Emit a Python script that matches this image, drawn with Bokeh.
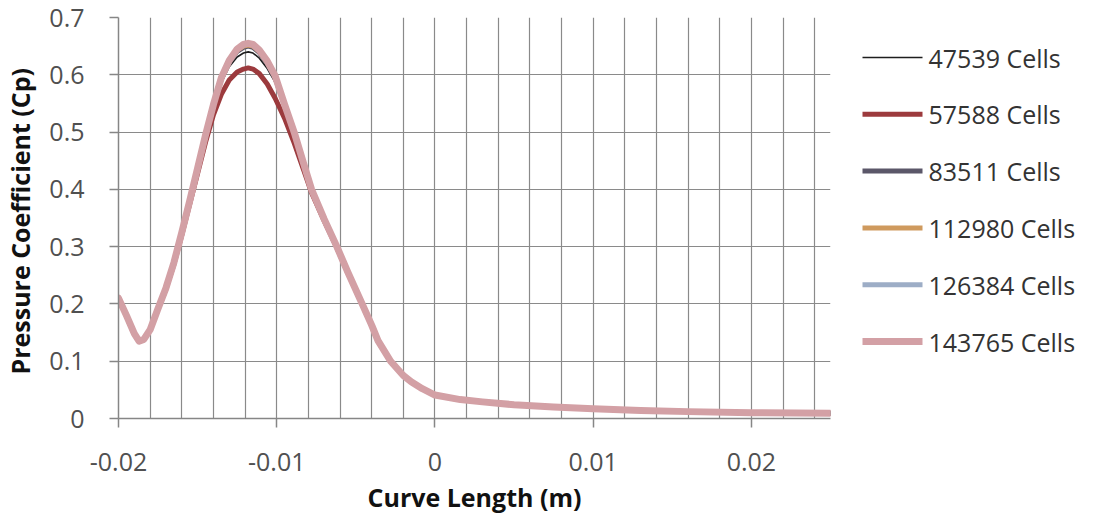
from bokeh.plotting import figure
from bokeh.layouts import row
from bokeh.models import SingleIntervalTicker, FixedTicker, CustomJSTickFormatter, Range1d
from bokeh.core.properties import value
from bokeh.embed import file_html
from bokeh.resources import INLINE

# Curve length along surface (m)
curve_length = [-0.0200, -0.0195, -0.0190, -0.0187, -0.0184, -0.0180, -0.0175, -0.0170, -0.0165, -0.0160,
                -0.0155, -0.0150, -0.0145, -0.0140, -0.0135, -0.0130, -0.0125, -0.0121, -0.0118, -0.0115,
                -0.0111, -0.0106, -0.0101, -0.0095, -0.0089, -0.0083, -0.0078, -0.0070, -0.0062, -0.0055,
                -0.0046, -0.0040, -0.0036, -0.0028, -0.0020, -0.0015, -0.0008, 0.0000, 0.0016, 0.0030,
                0.0050, 0.0075, 0.0100, 0.0130, 0.0160, 0.0200, 0.0250]

cp_47539 = [0.215, 0.182, 0.149, 0.136, 0.139, 0.156, 0.193, 0.229, 0.272, 0.324,
            0.378, 0.434, 0.491, 0.543, 0.586, 0.614, 0.631, 0.638, 0.640, 0.638,
            0.629, 0.611, 0.587, 0.541, 0.497, 0.443, 0.399, 0.347, 0.300, 0.255,
            0.200, 0.163, 0.136, 0.100, 0.075, 0.064, 0.052, 0.041, 0.033, 0.029,
            0.024, 0.020, 0.017, 0.014, 0.012, 0.010, 0.009]

cp_57588 = [0.209, 0.179, 0.147, 0.135, 0.138, 0.155, 0.191, 0.226, 0.269, 0.320,
            0.374, 0.428, 0.482, 0.530, 0.566, 0.591, 0.605, 0.610, 0.612, 0.610,
            0.602, 0.584, 0.559, 0.524, 0.481, 0.434, 0.394, 0.345, 0.298, 0.254,
            0.199, 0.162, 0.135, 0.100, 0.075, 0.064, 0.052, 0.041, 0.033, 0.029,
            0.024, 0.020, 0.017, 0.014, 0.012, 0.010, 0.009]

cp_83511 = [0.210, 0.180, 0.148, 0.135, 0.138, 0.155, 0.192, 0.228, 0.272, 0.325,
            0.380, 0.437, 0.494, 0.547, 0.593, 0.622, 0.641, 0.648, 0.650, 0.648,
            0.639, 0.620, 0.595, 0.546, 0.499, 0.444, 0.399, 0.348, 0.300, 0.255,
            0.200, 0.163, 0.136, 0.100, 0.075, 0.064, 0.052, 0.041, 0.033, 0.029,
            0.024, 0.020, 0.017, 0.014, 0.012, 0.010, 0.009]

cp_112980 = [0.210, 0.180, 0.148, 0.135, 0.138, 0.155, 0.192, 0.228, 0.272, 0.325,
             0.380, 0.437, 0.495, 0.548, 0.594, 0.624, 0.643, 0.650, 0.652, 0.650,
             0.641, 0.622, 0.597, 0.547, 0.500, 0.445, 0.400, 0.348, 0.300, 0.255,
             0.200, 0.163, 0.136, 0.100, 0.075, 0.064, 0.052, 0.041, 0.033, 0.029,
             0.024, 0.020, 0.017, 0.014, 0.012, 0.010, 0.009]

cp_126384 = [0.210, 0.180, 0.148, 0.135, 0.138, 0.155, 0.192, 0.228, 0.272, 0.325,
             0.380, 0.437, 0.495, 0.548, 0.595, 0.625, 0.644, 0.652, 0.654, 0.652,
             0.642, 0.623, 0.598, 0.548, 0.500, 0.445, 0.400, 0.348, 0.300, 0.255,
             0.200, 0.163, 0.136, 0.100, 0.075, 0.064, 0.052, 0.041, 0.033, 0.029,
             0.024, 0.020, 0.017, 0.014, 0.012, 0.010, 0.009]

cp_143765 = [0.210, 0.180, 0.148, 0.135, 0.138, 0.155, 0.192, 0.228, 0.272, 0.325,
             0.380, 0.437, 0.495, 0.548, 0.595, 0.625, 0.645, 0.653, 0.655, 0.653,
             0.643, 0.624, 0.598, 0.548, 0.500, 0.445, 0.400, 0.348, 0.300, 0.255,
             0.200, 0.163, 0.136, 0.100, 0.075, 0.064, 0.052, 0.041, 0.033, 0.029,
             0.024, 0.020, 0.017, 0.014, 0.012, 0.010, 0.009]

series_labels = ["47539 Cells", "57588 Cells", "83511 Cells", "112980 Cells", "126384 Cells", "143765 Cells"]
series_values = [cp_47539, cp_57588, cp_83511, cp_112980, cp_126384, cp_143765]
series_colors = ["#1e1e1e", "#9c3a3d", "#5b5769", "#cf9a5e", "#9dadc6", "#d3a0a5"]
series_widths = [1.6, 5, 5, 5, 5, 7]

x_ticks = [-0.02, -0.01, 0, 0.01, 0.02]
y_ticks = [0, 0.1, 0.2, 0.3, 0.4, 0.5, 0.6, 0.7]

FONT = "Open Sans"
H = 518
TOP = 17
BOTTOM = 100

p = figure(width=840, height=H, output_backend="svg", toolbar_location=None,
           x_range=Range1d(-0.02, 0.025), y_range=Range1d(0, 0.7),
           min_border_left=117, min_border_right=10, min_border_top=TOP, min_border_bottom=BOTTOM,
           background_fill_color="white", border_fill_color="white")
p.outline_line_color = None

for vals, col, w in zip(series_values, series_colors, series_widths):
    p.line(curve_length, vals, line_color=col, line_width=w, line_join="round", line_cap="round")

fmt = CustomJSTickFormatter(code="return String(parseFloat(tick.toFixed(3)));")

p.xaxis.ticker = FixedTicker(ticks=x_ticks)
p.yaxis.ticker = FixedTicker(ticks=y_ticks)
p.xaxis.formatter = fmt
p.yaxis.formatter = fmt
p.xgrid.ticker = SingleIntervalTicker(interval=0.002)
p.ygrid.ticker = FixedTicker(ticks=y_ticks)
for g in (p.xgrid, p.ygrid):
    g.grid_line_color = "#8a8a8a"
    g.grid_line_width = 1.2

for ax in (p.xaxis, p.yaxis):
    ax.axis_line_color = "#868686"
    ax.axis_line_width = 1.5
    ax.major_tick_line_color = "#868686"
    ax.major_tick_line_width = 1.5
    ax.major_tick_in = 0
    ax.major_tick_out = 9
    ax.minor_tick_line_color = None
    ax.major_label_text_font = FONT
    ax.major_label_text_font_size = "25px"
    ax.major_label_text_color = "#505050"
    ax.axis_label_text_font = FONT
    ax.axis_label_text_font_style = "bold"
    ax.axis_label_text_font_size = "25px"
    ax.axis_label_text_color = "#111111"

p.xaxis.axis_label = "Curve Length (m)"
p.yaxis.axis_label = "Pressure Coefficient  (Cp)"
p.xaxis.major_label_standoff = 25
p.xaxis.axis_label_standoff = 6
p.yaxis.major_label_standoff = 25
p.yaxis.axis_label_standoff = 9

# Legend panel to the right of the plot; y values are pixels from the figure bottom
LW = 238
lf = figure(width=LW, height=H, output_backend="svg", toolbar_location=None,
            x_axis_type=None, y_axis_type=None, x_range=Range1d(0, LW), y_range=Range1d(BOTTOM, H - TOP),
            min_border_left=0, min_border_right=0, min_border_top=TOP, min_border_bottom=BOTTOM,
            background_fill_color="white", border_fill_color="white")
lf.outline_line_color = None
lf.grid.visible = False

for i, (lab, col, w) in enumerate(zip(series_labels, series_colors, series_widths)):
    yc = H - 57 - i * 56.8
    lf.line([22, 82], [yc, yc], line_color=col, line_width=w)
    lf.text(x=[88], y=[yc], text=[lab], text_baseline="middle", text_align="left",
            text_font=value(FONT), text_font_size="25px", text_color="#333333")

layout = row(p, lf, spacing=0)
open("out.html", "w").write(file_html(layout, INLINE))
